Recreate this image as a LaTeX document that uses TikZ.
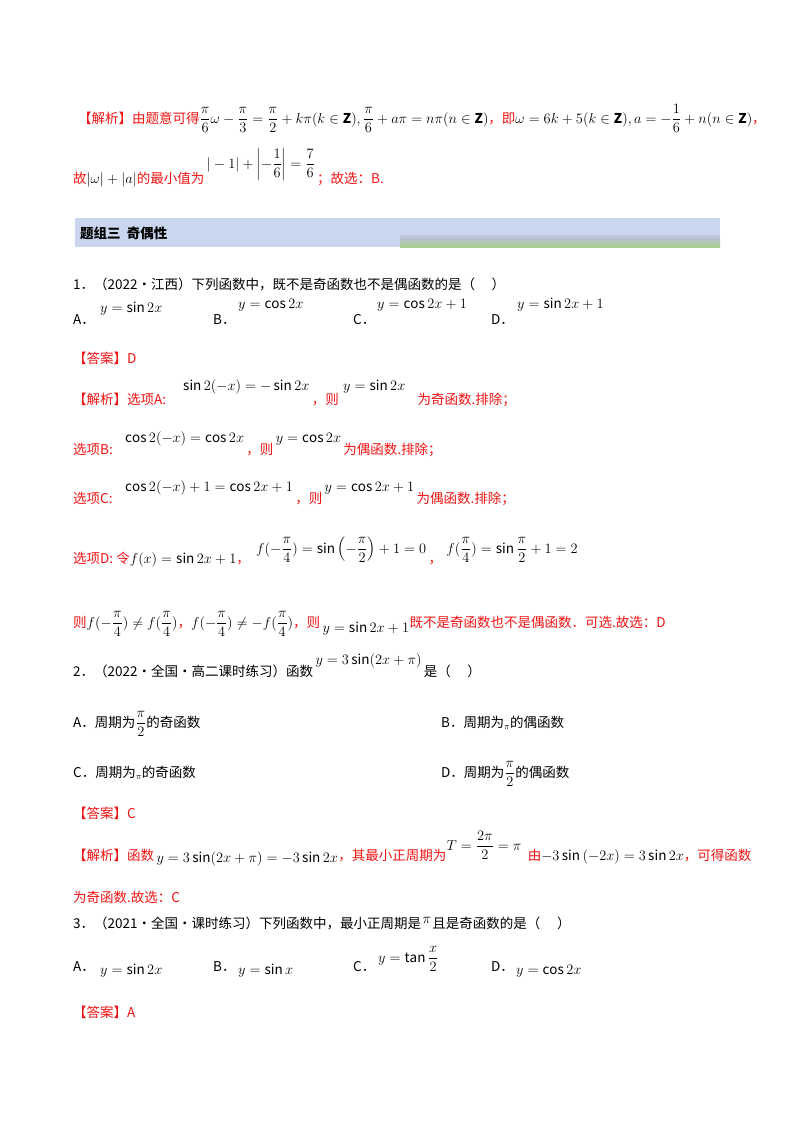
\documentclass[tikz,border=0pt]{standalone}
\usepackage{amsmath,amssymb}
\usepackage{fontspec}
\setmainfont{Noto Sans CJK SC}
\definecolor{rd}{RGB}{240,20,20}
\definecolor{hb}{RGB}{201,214,238}
\definecolor{hg}{RGB}{170,205,140}
\begin{document}
\begin{tikzpicture}[x=1pt,y=-1pt,
 t/.style={anchor=base west,inner sep=0pt,font=\fontsize{13.5}{15}\selectfont},
 r/.style={t,text=rd}]
\useasboundingbox (0,0) rectangle (800,1132);
\fill[white] (0,0) rectangle (800,1132);
% line 1
\node[r] (l1) at (78,123) {【解析】由题意可得\textcolor{black}{$\dfrac{\pi}{6}\omega-\dfrac{\pi}{3}=\dfrac{\pi}{2}+k\pi(k\in\mathbf{Z}),\dfrac{\pi}{6}+a\pi=n\pi(n\in\mathbf{Z})$}，即\textcolor{black}{$\omega=6k+5(k\in\mathbf{Z}),a=-\dfrac{1}{6}+n(n\in\mathbf{Z})$}，};
\node[r] (l2a) at (73,183) {故\textcolor{black}{$|\omega|+|a|$}的最小值为};
\node[t] (l2b) at ([xshift=2pt]l2a.east |- 0,168) {$|-1|+\left|-\dfrac16\right|=\dfrac76$};
\node[r] (l2c) at ([xshift=2pt]l2b.east |- l2a.base) {；故选：B.};
% header
\fill[hb] (75,218) rectangle (720,247);
\fill[hb!85!gray] (400,235) rectangle (720,241);
\shade[top color=hb!75!gray,bottom color=hg] (400,238) rectangle (720,247);
\node[t,font=\fontsize{13.5}{15}\selectfont\bfseries] (hd) at (80,238) {题组三\ \ 奇偶性};
% Q1
\node[t] (q1) at (73,289) {1．（2022·江西）下列函数中，既不是奇函数也不是偶函数的是（\quad\ ）};
\node[t] (a1) at (73,324) {A．}; \node[t] (a1m) at (100,312) {$y=\sin 2x$};
\node[t] (b1) at (213,324) {B．}; \node[t] (b1m) at (238,308) {$y=\cos 2x$};
\node[t] (c1) at (353,324) {C．}; \node[t] (c1m) at (377,308) {$y=\cos 2x+1$};
\node[t] (d1) at (491,324) {D．}; \node[t] (d1m) at (517,308) {$y=\sin 2x+1$};
\node[r] (ans1) at (73,363) {【答案】D};
\node[r] (sa) at (73,404) {【解析】选项A:};
\node[t] (sam) at (183,390) {$\sin 2(-x)=-\sin 2x$};
\node[r] (sa2) at ([xshift=2pt]sam.east |- sa.base) {，则};
\node[t] (sam2) at ([xshift=4pt]sa2.east |- 0,390) {$y=\sin 2x$};
\node[r] (sa3) at ([xshift=12pt]sam2.east |- sa.base) {为奇函数.排除；};
\node[r] (sb) at (73,454) {选项B:};
\node[t] (sbm) at (125,442) {$\cos 2(-x)=\cos 2x$};
\node[r] (sb2) at ([xshift=2pt]sbm.east |- sb.base) {，则};
\node[t] (sbm2) at ([xshift=2pt]sb2.east |- 0,442) {$y=\cos 2x$};
\node[r] (sb3) at ([xshift=2pt]sbm2.east |- sb.base) {为偶函数.排除；};
\node[r] (sc) at (73,503) {选项C:};
\node[t] (scm) at (125,491) {$\cos 2(-x)+1=\cos 2x+1$};
\node[r] (sc2) at ([xshift=2pt]scm.east |- sc.base) {，则};
\node[t] (scm2) at ([xshift=2pt]sc2.east |- 0,491) {$y=\cos 2x+1$};
\node[r] (sc3) at ([xshift=2pt]scm2.east |- sc.base) {为偶函数.排除；};
\node[r] (sd) at (73,563) {选项D: 令\textcolor{black}{$f(x)=\sin 2x+1$}，};
\node[t] (sdm) at ([xshift=6pt]sd.east |- 0,553) {$f(-\dfrac{\pi}{4})=\sin\left(-\dfrac{\pi}{2}\right)+1=0$};
\node[r] (sd2) at ([xshift=2pt]sdm.east |- sd.base) {，};
\node[t] (sdm2) at ([xshift=4pt]sd2.east |- 0,553) {$f(\dfrac{\pi}{4})=\sin\dfrac{\pi}{2}+1=2$};
\node[r] (ze) at (73,627) {则\textcolor{black}{$f(-\dfrac{\pi}{4})\neq f(\dfrac{\pi}{4})$}，\textcolor{black}{$f(-\dfrac{\pi}{4})\neq -f(\dfrac{\pi}{4})$}，则};
\node[t] (zem) at ([xshift=2pt]ze.east |- 0,632) {$y=\sin 2x+1$};
\node[r] (ze2) at (zem.east |- ze.base) {既不是奇函数也不是偶函数．可选.故选：D};
% Q2
\node[t] (q2) at (73,676) {2．（2022·全国·高二课时练习）函数};
\node[t] (q2m) at ([xshift=2pt]q2.east |- 0,664) {$y=3\sin(2x+\pi)$};
\node[t] (q2b) at ([xshift=2pt]q2m.east |- q2.base) {是（\quad\ ）};
\node[t] (a2) at (73,727) {A．周期为$\dfrac{\pi}{2}$的奇函数};
\node[t] (b2) at (441,727) {B．周期为$_{\pi}$的偶函数};
\node[t] (c2) at (73,777) {C．周期为$_{\pi}$的奇函数};
\node[t] (d2) at (441,777) {D．周期为$\dfrac{\pi}{2}$的偶函数};
\node[r] (ans2) at (73,818) {【答案】C};
\node[r] (j2) at (73,860) {【解析】函数};
\node[t] (j2m) at ([xshift=2pt]j2.east |- 0,862) {$y=3\sin(2x+\pi)=-3\sin 2x$};
\node[r] (j2b) at (j2m.east |- j2.base) {，其最小正周期为};
\node[t] (j2m2) at (j2b.east |- 0,850) {$T=\dfrac{2\pi}{2}=\pi$};
\node[r] (j2c) at ([xshift=6pt]j2m2.east |- j2.base) {由\textcolor{black}{$-3\sin\left(-2x\right)=3\sin 2x$}，可得函数};
\node[r] (j2d) at (73,902) {为奇函数.故选：C};
% Q3
\node[t] (q3) at (73,928) {3．（2021·全国·课时练习）下列函数中，最小正周期是};
\node[t] (q3m) at ([xshift=1pt]q3.east |- 0,923) {$\pi$};
\node[t] (q3b) at ([xshift=1pt]q3m.east |- q3.base) {且是奇函数的是（\quad\ ）};
\node[t] (a3) at (73,971) {A．}; \node[t] (a3m) at (100,974) {$y=\sin 2x$};
\node[t] (b3) at (213,971) {B．}; \node[t] (b3m) at (238,974) {$y=\sin x$};
\node[t] (c3) at (353,971) {C．}; \node[t] (c3m) at (378,962) {$y=\tan\dfrac{x}{2}$};
\node[t] (d3) at (491,971) {D．}; \node[t] (d3m) at (516,974) {$y=\cos 2x$};
\node[r] (ans3) at (73,1017) {【答案】A};
\end{tikzpicture}
\end{document}
